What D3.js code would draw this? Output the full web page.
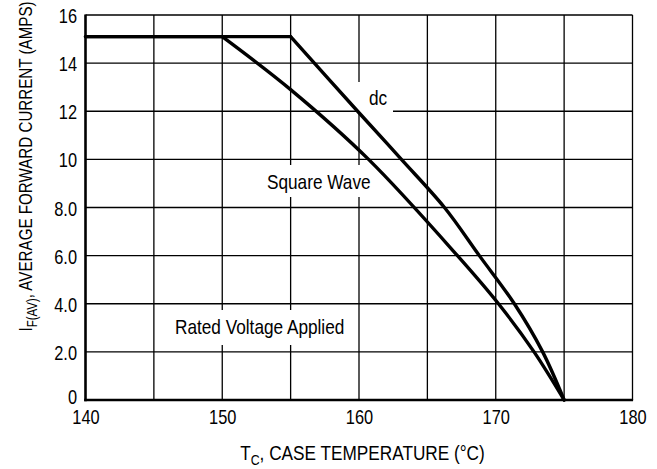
<!DOCTYPE html>
<html>
<head>
<meta charset="utf-8">
<script src="https://cdn.jsdelivr.net/npm/d3@7/dist/d3.min.js"></script>
<style>
  html, body { margin: 0; padding: 0; background: #fff; }
  svg { display: block; }
  text { font-family: 'Liberation Sans', Arial, sans-serif; fill: #000; }
</style>
</head>
<body>
<svg id="chart" width="657" height="469"></svg>
<script>
// ---- data ----
const xTicks = [140, 150, 160, 170, 180];
const xTickLabels = ["140", "150", "160", "170", "180"];
const xGrid = [145, 150, 155, 160, 165, 170, 175];
const yTicks = [0, 2, 4, 6, 8, 10, 12, 14, 16];
const yTickLabels = ["0", "2.0", "4.0", "6.0", "8.0", "10", "12", "14", "16"];

const dcTemp = [140, 155, 159.9, 163.1, 166.25, 168.8, 171.36, 173.43, 175];
const dcCurrent = [15.1, 15.1, 12, 10, 8, 6, 4, 2, 0];

const swTemp = [140, 150, 155, 160.7, 167.2, 170.2, 172.8, 175];
const swCurrent = [15.1, 15.1, 12.9, 10, 6, 4, 2, 0];

// ---- layout ----
const SX = 0.82; // condensed type
const FONT = "'Liberation Sans', Arial, sans-serif";
const L = 85.5, R = 632.5, T = 15, B = 400;
const svg = d3.select("#chart");
const x = d3.scaleLinear().domain([140, 180]).range([L, R]);
const y = d3.scaleLinear().domain([0, 16]).range([B, T]);

// grid
const g = svg.append("g");
g.selectAll("line.v").data(xGrid).enter().append("line")
  .attr("x1", d => x(d)).attr("x2", d => x(d))
  .attr("y1", T).attr("y2", B)
  .attr("stroke", "#000").attr("stroke-width", 1.3);
g.selectAll("line.h").data(yTicks.filter(d => d > 0)).enter().append("line")
  .attr("x1", L).attr("x2", R)
  .attr("y1", d => y(d)).attr("y2", d => y(d))
  .attr("stroke", "#000").attr("stroke-width", 1.3);
g.append("line").attr("x1", R).attr("x2", R).attr("y1", T).attr("y2", B)
  .attr("stroke", "#000").attr("stroke-width", 1.3);

// label backgrounds
const boxes = [
  {x0: 358, x1: 393, y0: 82, y1: 113},
  {x0: 262, x1: 377, y0: 165, y1: 197},
  {x0: 170, x1: 351, y0: 310, y1: 345}
];
svg.selectAll("rect.bg").data(boxes).enter().append("rect")
  .attr("x", d => d.x0).attr("y", d => d.y0)
  .attr("width", d => d.x1 - d.x0).attr("height", d => d.y1 - d.y0)
  .attr("fill", "#fff");

// curves: flat part straight, sloped part smooth
const flat = d3.line().x(d => x(d[0])).y(d => y(d[1]));
const smooth = d3.line().x(d => x(d[0])).y(d => y(d[1])).curve(d3.curveCatmullRom.alpha(0.5));
function drawCurve(ts, vs) {
  const pts = ts.map((t, i) => [t, vs[i]]);
  const k = vs.findIndex((v, i) => i > 0 && v < vs[0]) - 1; // corner index
  [[flat, pts.slice(0, k + 1)], [smooth, pts.slice(k)]].forEach(([gen, p]) => {
    svg.append("path").attr("d", gen(p))
      .attr("fill", "none").attr("stroke", "#000")
      .attr("stroke-width", 3.4).attr("stroke-linejoin", "round")
      .attr("stroke-linecap", "round");
  });
}
drawCurve(dcTemp, dcCurrent);
drawCurve(swTemp, swCurrent);

// axis lines
svg.append("line").attr("x1", L).attr("x2", L).attr("y1", T - 0.6).attr("y2", B + 1.3)
  .attr("stroke", "#000").attr("stroke-width", 2.6);
svg.append("line").attr("x1", L - 1.3).attr("x2", R + 0.6).attr("y1", B).attr("y2", B)
  .attr("stroke", "#000").attr("stroke-width", 2.6);

// axes via d3
const yAxis = d3.axisLeft(y).tickValues(yTicks)
  .tickFormat((d, i) => yTickLabels[i]).tickSize(0).tickPadding(0);
const ya = svg.append("g").attr("transform", `translate(${L},0)`).call(yAxis);
ya.select(".domain").remove();
ya.selectAll("text").attr("font-size", 20)
  .attr("dy", null).attr("x", -8.5 / SX).attr("y", d => d === 0 ? 3.5 : 7.5)
  .attr("transform", `scale(${SX},1)`)
  .style("font-family", FONT);

const xAxis = d3.axisBottom(x).tickValues(xTicks)
  .tickFormat((d, i) => xTickLabels[i]).tickSize(0).tickPadding(0);
const xa = svg.append("g").attr("transform", `translate(0,${B})`).call(xAxis);
xa.select(".domain").remove();
xa.selectAll("text").attr("font-size", 20)
  .attr("dy", null).attr("y", 24)
  .attr("transform", `scale(${SX},1)`)
  .style("font-family", FONT);

// condensed text helper
function ctext(px, py, size, anchor, rot) {
  return svg.append("text")
    .attr("transform", `translate(${px},${py})` + (rot ? ` rotate(${rot})` : "") + ` scale(${SX},1)`)
    .attr("text-anchor", anchor).attr("font-size", size);
}

// annotations
ctext(369, 105, 21, "start").text("dc");
ctext(267, 188.5, 21, "start").text("Square Wave");
ctext(175, 333.5, 21, "start").text("Rated Voltage Applied");

// x title
const xt = ctext(362.5, 460, 21, "middle");
xt.append("tspan").text("T");
xt.append("tspan").attr("font-size", 15).attr("dy", 5).text("C");
xt.append("tspan").attr("dy", -5).text(", CASE TEMPERATURE (°C)");

// y title
const yt = ctext(32, 166.5, 18.5, "middle", -90);
yt.append("tspan").text("I");
yt.append("tspan").attr("font-size", 14).attr("dy", 5).text("F(AV)");
yt.append("tspan").attr("dy", -5).text(", AVERAGE FORWARD CURRENT (AMPS)");
</script>
</body>
</html>
